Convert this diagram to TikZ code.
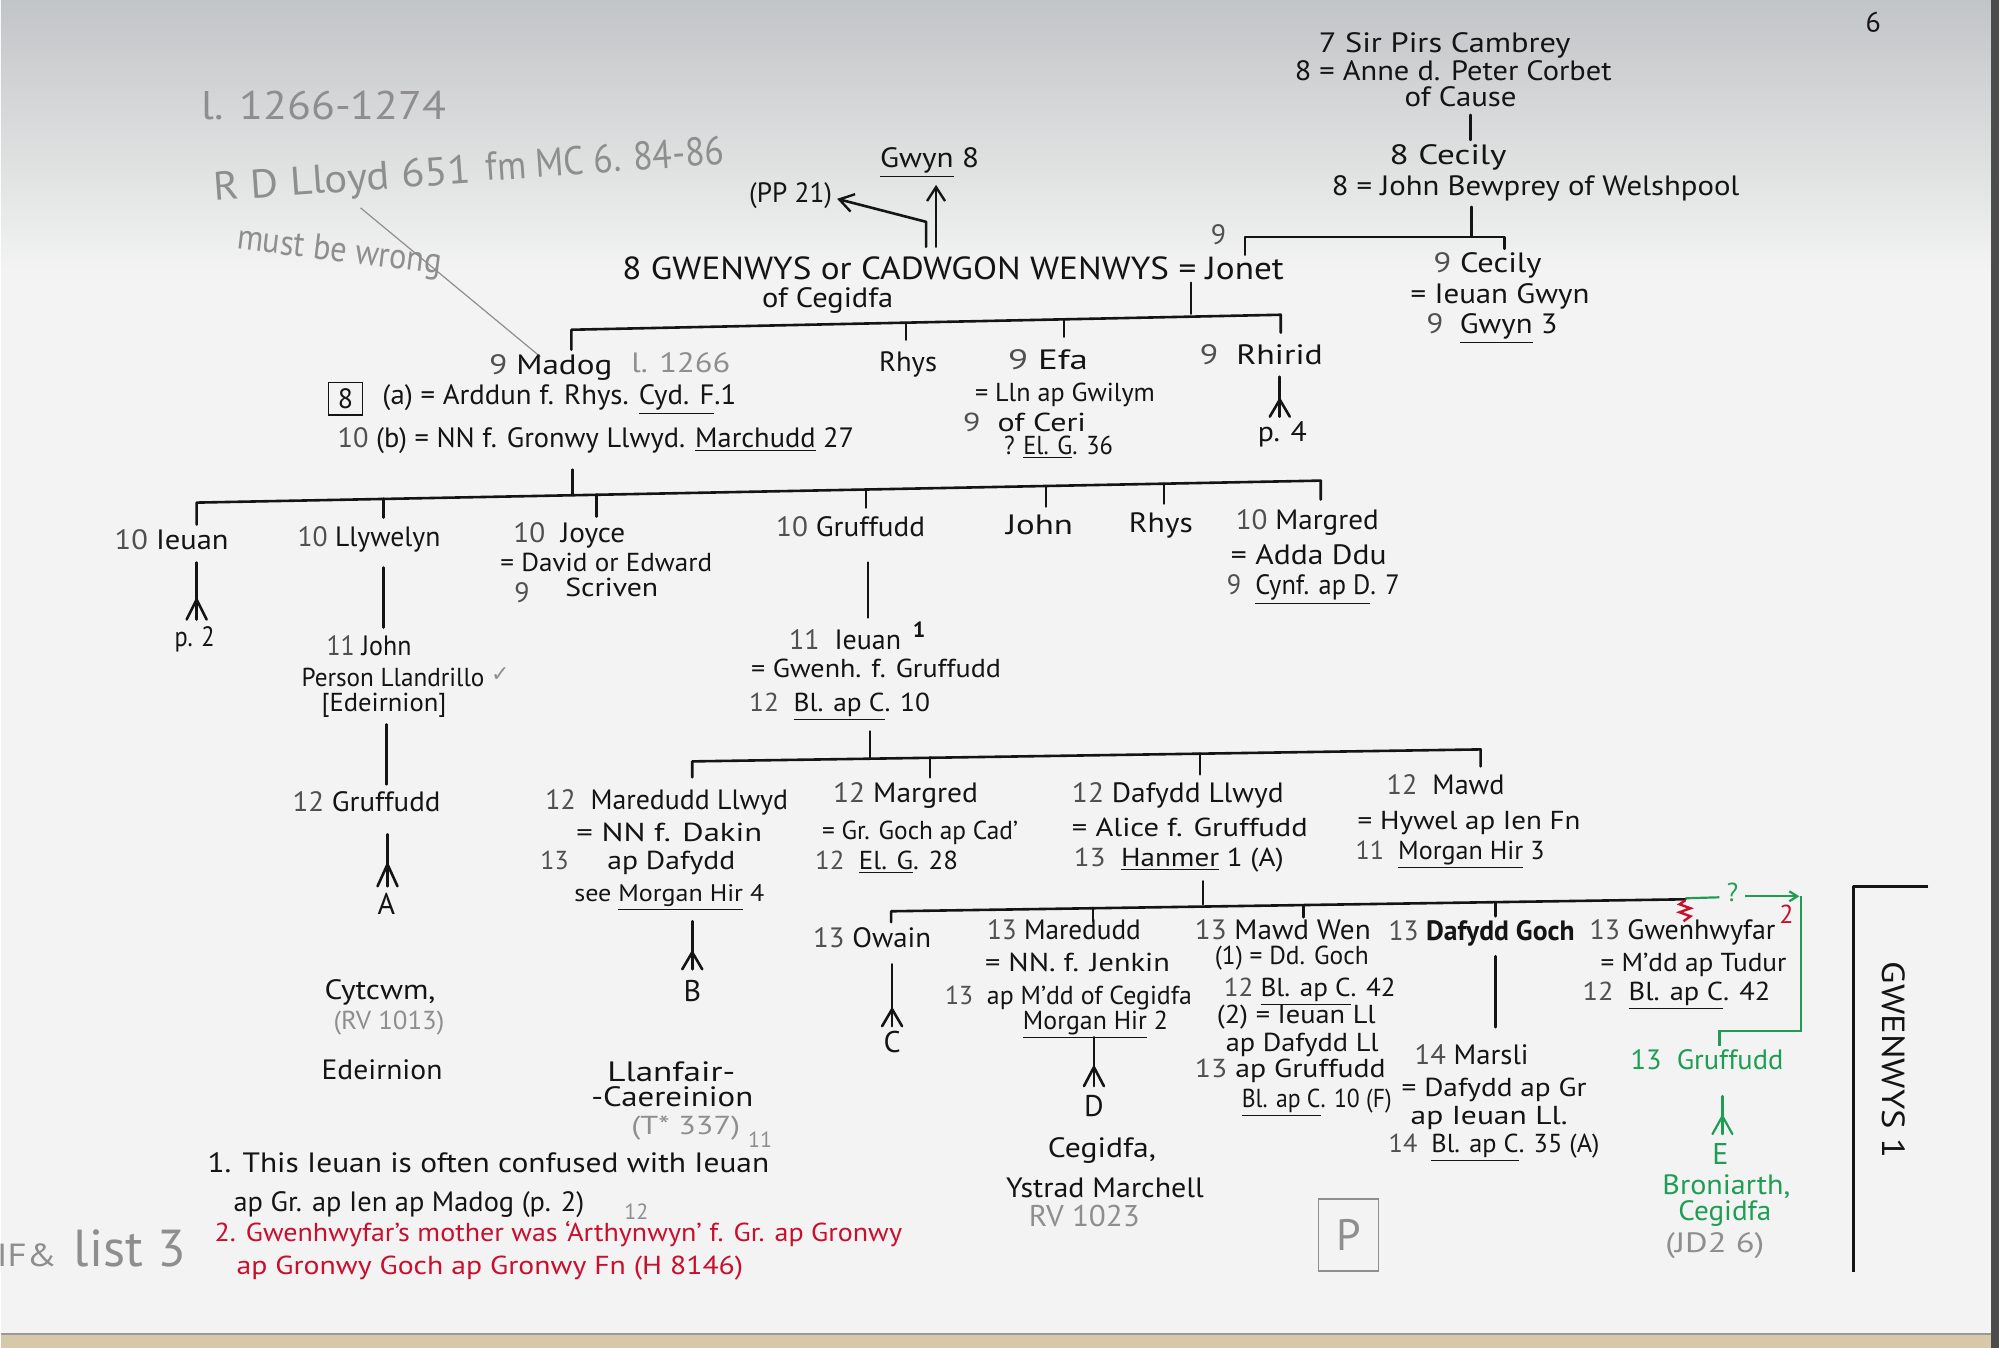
\documentclass[tikz,border=0pt]{standalone}
\usepackage{fontspec}
\setmainfont{PT Sans}
\newfontfamily\dejavu{DejaVu Sans}
\usepackage{graphicx}
\usetikzlibrary{arrows.meta}
\definecolor{ink}{HTML}{141414}
\definecolor{numgrey}{HTML}{505050}
\definecolor{pencil}{HTML}{8E8E8E}
\definecolor{grn}{HTML}{1F9D55}
\definecolor{rd}{HTML}{C8102E}
\definecolor{paper}{HTML}{F2F3F2}
\definecolor{topgrey}{HTML}{C2C5C7}
\definecolor{edgebeige}{HTML}{D6C8A8}
\tikzset{
  txt/.style={anchor=mid west,inner sep=0pt,outer sep=0pt,text=ink},
  pen/.style={text=pencil},
  gtext/.style={text=grn},
  rtext/.style={text=rd},
  tree/.style={draw=ink,line width=1.3pt,line cap=round,line join=round},
  gtree/.style={draw=grn,line width=1.1pt},
  ptree/.style={draw=pencil,line width=0.6pt},
  letter/.style={inner sep=0pt,text=ink,font=\fontsize{15}{15}\selectfont},
  barb/.style={-{Straight Barb[length=7pt,width=9pt,line width=1.2pt]}}
}
\newcommand\g[1]{\textcolor{numgrey}{#1}}
\newcommand\tx[7][]{\node[txt,font=\fontsize{#5}{#5}\selectfont,#1] (#2) at (#3,#4) {\resizebox{\dimexpr #6pt/2\relax}{\height}{#7}};}
\newcommand\desc[5]{\draw[tree,#5] (#1,#2)--(#1,#3); \draw[tree,#5] ({#1-10},#3)--(#1,#4)--({#1+10},#3);}

\begin{document}
\begin{tikzpicture}[x=0.5pt,y=-0.5pt]
% ---------- page ----------
\fill[paper] (0,0) rectangle (2000,1349);
\shade[top color=topgrey,bottom color=paper] (0,0) rectangle (2000,270);
\fill[edgebeige] (0,1335) rectangle (2000,1349);
\draw[draw=black!40,line width=0.8pt] (0,1335)--(2000,1335);
\fill[black!70] (1992,0) rectangle (2000,1349);
\useasboundingbox (0,0) rectangle (2000,1349);

% ---------- pencil notes top left ----------
\tx[pen]{note1}{201}{115}{20}{245}{l. 1266-1274}
\tx[pen,rotate=4]{note2a}{214}{196}{20}{258}{R D Lloyd 651}
\tx[pen,rotate=4]{note2b}{486}{176}{20}{239}{fm MC 6. 84-86}
\tx[pen,rotate=-7]{note3}{236}{244}{18}{206}{must be wrong}
\coordinate (n2) at (360,208);
\coordinate (n2end) at (540,357);
\draw[ptree] (n2)--(n2end);
\node[text=ink,font=\fontsize{14}{14}\selectfont,rotate=180,inner sep=0pt] (pageno) at (1874,22) {9};

% ---------- top right ----------
\tx{pirs}{1319}{48}{14}{252}{7 Sir Pirs Cambrey}
\tx{anne}{1295}{76}{14}{317}{8 = Anne d. Peter Corbet}
\tx{cause}{1405}{102}{14}{112}{of Cause}
\draw[tree] (1471,115)--(1471,140);
\tx{cecily8}{1390}{160}{14}{117}{8 Cecily}
\tx{bewprey}{1332}{191}{14}{408}{8 = John Bewprey of Welshpool}
\draw[tree] (1472,207)--(1472,237);
\draw[tree] (1245,255)--(1245,237)--(1505,237)--(1505,249);
\node[txt,text=numgrey,font=\fontsize{14}{14}\selectfont] (j9) at (1211,240) {9};
\tx{cecily9}{1434}{268}{14}{108}{\g{9} Cecily}
\tx{ieuangwyn}{1411}{299}{14}{179}{= Ieuan Gwyn}
\tx{gwyn3}{1427}{329}{14}{131}{\g{9}\ \ \underline{Gwyn} 3}

% ---------- Gwenwys ----------
\tx{gwyn8}{880}{163}{14}{99}{\underline{Gwyn} 8}
\tx{pp21}{749}{198}{14}{83}{(PP 21)}
\draw[tree,barb] (936,247)--(936,185);
\draw[tree,barb] (926,247)--(926,222)--(837,199);
\tx{gwenwys}{622}{275}{16}{662}{8 GWENWYS or CADWGON WENWYS = Jonet}
\tx{cegidfa1}{762}{303}{14}{131}{of Cegidfa}
\draw[tree] (1191,283)--(1191,314);
\draw[tree] (571,350)--(571,330)--(1281,315)--(1281,333);
\draw[tree] (906,323)--(906,340);
\draw[tree] (1064,320)--(1064,337);

% ---------- generation 9 ----------
\tx{madog}{489}{370}{14}{123}{\g{9} Madog}
\tx[pen]{l1266}{631}{368}{14}{99}{l. 1266}
\node[draw=ink,line width=0.8pt,inner sep=3pt,text=ink,font=\fontsize{14}{14}\selectfont,minimum width=17pt,minimum height=15pt] (box8) at (345,399) {8};
\tx{arddun}{382}{400}{14}{354}{(a) = Arddun f. Rhys. \underline{Cyd. F}.1}
\tx{nn}{337}{443}{14}{517}{\g{10}\ (b) = NN f. Gronwy Llwyd. \underline{Marchudd} 27}
\tx{rhys9}{879}{367}{14}{58}{Rhys}
\tx{efa}{1008}{365}{14}{80}{\g{9} Efa}
\tx{efasp}{975}{397}{13}{180}{= Lln ap Gwilym}
\tx{ceri}{963}{427}{13}{123}{\g{9}\ \ of Ceri}
\tx{elg36}{1004}{450}{13}{109}{? \underline{El. G}. 36}
\tx{rhirid}{1200}{360}{14}{123}{\g{9}\ \ Rhirid}
\desc{1280}{377}{417}{400}{}
\tx{p4}{1258}{437}{14}{49}{p. 4}

% ---------- generation 10 ----------
\draw[tree] (572,470)--(572,495);
\draw[tree] (196,525)--(196,503)--(1321,481)--(1321,500);
\draw[tree] (383,499)--(383,518);
\draw[tree] (596,495)--(596,517);
\draw[tree] (866,490)--(866,508);
\draw[tree] (1046,487)--(1046,507);
\draw[tree] (1164,484)--(1164,504);

\tx{ieuan10}{114}{545}{14}{114}{\g{10} Ieuan}
\desc{196}{563}{620}{600}{}
\tx{p2}{174}{642}{14}{40}{p. 2}
\tx{llywelyn}{297}{542}{14}{143}{\g{10}\ Llywelyn}
\draw[tree] (383,568)--(383,628);
\tx{john11}{326}{651}{14}{85}{\g{11} John}
\tx{person}{301}{682}{13}{183}{Person Llandrillo}
\node[text=pencil,font=\dejavu\fontsize{11}{11}\selectfont] (chk) at (500,675) {✓};
\tx{edeirnion1}{321}{707}{13}{125}{[Edeirnion]}
\draw[tree] (386,725)--(386,785);
\tx{joyce}{513}{538}{14}{112}{\g{10}\ \ Joyce}
\tx{david}{500}{567}{13}{212}{= David or Edward}
\node[txt,text=numgrey,font=\fontsize{14}{14}\selectfont] (s9) at (514,598) {9};
\tx{scriven}{565}{592}{13}{93}{Scriven}
\tx{gruffudd10}{776}{532}{14}{149}{\g{10} Gruffudd}
\draw[tree] (868,563)--(868,618);
\tx{john10}{1006}{530}{14}{67}{John}
\tx{rhys10}{1129}{528}{14}{64}{Rhys}
\tx{margred10}{1236}{525}{14}{143}{\g{10} Margred}
\tx{adda}{1231}{560}{14}{156}{= Adda Ddu}
\tx{cynf}{1227}{590}{14}{173}{\g{9}\ \ \underline{Cynf. ap D}. 7}

% ---------- generation 11 ----------
\tx{ieuan11}{789}{645}{14}{112}{\g{11}\ \ Ieuan}
\node[text=ink,font=\bfseries\fontsize{11}{11}\selectfont] (sup1) at (919,630) {1};
\tx{gwenh}{751}{673}{13}{250}{= Gwenh. f. Gruffudd}
\tx{blc10a}{749}{707}{13}{181}{\g{12}\ \ \underline{Bl. ap C}. 10}
\draw[tree] (870,732)--(870,758);
\draw[tree] (692,778)--(692,762)--(1481,750)--(1481,767);
\draw[tree] (930,758)--(930,778);
\draw[tree] (1200,754)--(1200,775);

% ---------- generation 12 ----------
\tx{gruffudd12}{292}{807}{14}{148}{\g{12} Gruffudd}
\desc{387}{835}{887}{865}{}
\node[letter] (A) at (386,905) {A};
\tx{cytcwm}{324}{995}{14}{111}{Cytcwm,}
\tx[pen]{rv1013}{333}{1025}{13}{111}{(RV 1013)}
\tx{edeirnion2}{321}{1075}{14}{121}{Edeirnion}

\tx{maredudd12}{545}{805}{14}{243}{\g{12}\ \ Maredudd Llwyd}
\tx{dakin}{576}{837}{13}{186}{= NN f. Dakin}
\node[txt,text=numgrey,font=\fontsize{13}{13}\selectfont] (d13) at (540,865) {13};
\tx{apdafydd}{607}{865}{13}{128}{ap Dafydd}
\tx{seemorgan}{574}{897}{12}{190}{see \underline{Morgan Hir} 4}
\desc{692}{922}{970}{953}{}
\node[letter] (B) at (692,992) {B};
\tx{llanfair}{607}{1077}{14}{128}{Llanfair-}
\tx{caereinion}{591}{1102}{14}{162}{-Caereinion}
\tx[pen]{t337}{631}{1130}{13}{109}{(T* 337)}
\node[pen,font=\fontsize{11}{11}\selectfont] (p11) at (760,1141) {11};

\tx{margred12}{833}{798}{14}{145}{\g{12} Margred}
\tx{grgoch}{822}{835}{13}{196}{= Gr. Goch ap Cad'}
\tx{elg28}{815}{865}{13}{143}{\g{12}\ \ \underline{El. G}. 28}

\tx{dafyddll}{1072}{798}{14}{212}{\g{12} Dafydd Llwyd}
\tx{alice}{1072}{832}{13}{236}{= Alice f. Gruffudd}
\tx{hanmer}{1074}{862}{13}{210}{\g{13}\ \ \underline{Hanmer} 1 (A)}
\draw[tree] (1203,882)--(1203,905);

\tx{mawd12}{1387}{790}{14}{118}{\g{12}\ \ Mawd}
\tx{hywel}{1358}{825}{13}{223}{= Hywel ap Ien Fn}
\tx{morgan3}{1356}{855}{13}{189}{\g{11}\ \ \underline{Morgan Hir} 3}

% ---------- generation 13 ----------
\draw[tree] (891,923)--(891,912)--(1686,900);
\draw[tree] (1093,909)--(1093,922);
\draw[tree] (1304,906)--(1304,918);
\draw[tree] (1496,903)--(1496,917);

\tx{owain}{813}{943}{14}{118}{\g{13} Owain}
\desc{892}{965}{1027}{1010}{}
\node[letter] (C) at (892,1043) {C};

\tx{maredudd13}{987}{935}{14}{154}{\g{13} Maredudd}
\tx{jenkin}{985}{967}{13}{185}{= NN. f. Jenkin}
\tx{mdd}{945}{1000}{13}{247}{\g{13}\ \ ap M'dd of Cegidfa}
\tx{morgan2}{1023}{1025}{13}{145}{\underline{Morgan Hir} 2}
\desc{1094}{1038}{1087}{1068}{}
\node[letter] (D) at (1094,1107) {D};
\tx{cegidfa2}{1048}{1153}{14}{108}{Cegidfa,}
\tx{ystrad}{1006}{1193}{14}{198}{Ystrad Marchell}
\tx[pen]{rv1023}{1029}{1222}{15}{111}{RV 1023}

\tx{mawdwen}{1195}{935}{14}{176}{\g{13} Mawd Wen}
\tx{ddgoch}{1215}{960}{13}{154}{(1) = Dd. Goch}
\tx{blc42a}{1224}{992}{13}{172}{\g{12} \underline{Bl. ap C}. 42}
\tx{ieuanll}{1217}{1019}{13}{159}{(2) = Ieuan Ll}
\tx{dafyddll2}{1226}{1047}{13}{153}{ap Dafydd Ll}
\tx{apgruff}{1195}{1073}{13}{191}{\g{13}\ ap Gruffudd}
\tx{blc10f}{1242}{1103}{13}{150}{\underline{Bl. ap C}. 10 (F)}

\tx{dafyddgoch}{1389}{936}{14}{186}{\g{13} \textbf{Dafydd Goch}}
\draw[tree] (1496,957)--(1496,1028);
\tx{marsli}{1415}{1060}{14}{114}{\g{14} Marsli}
\tx{dafyddapgr}{1402}{1092}{13}{185}{= Dafydd ap Gr}
\tx{ieuanll2}{1411}{1120}{13}{157}{ap Ieuan Ll.}
\tx{blc35}{1389}{1148}{13}{211}{\g{14}\ \ \underline{Bl. ap C}. 35 (A)}

\tx{gwenhwyfar}{1590}{935}{14}{186}{\g{13} Gwenhwyfar}
\node[text=rd,font=\fontsize{13}{13}\selectfont] (red2) at (1787,915) {2};
\tx{mddtudur}{1601}{967}{13}{186}{= M'dd ap Tudur}
\tx{blc42b}{1583}{996}{13}{188}{\g{12}\ \ \underline{Bl. ap C}. 42}

% red squiggle and green connection
\draw[draw=rd,line width=1.2pt] (1686,901)--(1680,905)--(1691,909)--(1680,913)--(1691,917)--(1684,922);
\draw[gtree] (1686,899)--(1720,898);
\node[text=grn,font=\fontsize{13}{13}\selectfont] (qm) at (1733,893) {?};
\draw[gtree,-{Straight Barb[length=4pt,width=5pt]}] (1746,897)--(1800,897);
\draw[gtree] (1802,897)--(1802,1032)--(1720,1032)--(1720,1047);
\tx[gtext]{gruff13}{1631}{1065}{14}{153}{13\ \ Gruffudd}
\desc{1723}{1097}{1135}{1117}{draw=grn,line width=1.1pt}
\node[letter,text=grn] (E) at (1721,1155) {E};
\tx[gtext]{broniarth}{1663}{1190}{14}{128}{Broniarth,}
\tx[gtext]{cegidfa3}{1679}{1216}{14}{93}{Cegidfa}
\tx[pen]{jd26}{1666}{1248}{14}{99}{(JD2 6)}

% GWENWYS 1 bracket
\draw[tree,line width=1.6pt,line cap=butt] (1929,887)--(1854,887)--(1854,1273);
\node[text=ink,font=\fontsize{16}{16}\selectfont,rotate=-90,inner sep=0pt] (gw1) at (1894,1061) {\resizebox{98.5pt}{\height}{GWENWYS 1}};

% ---------- footnotes ----------
\tx{fn1a}{207}{1168}{14}{562}{1. This Ieuan is often confused with Ieuan}
\tx{fn1b}{233}{1207}{14}{351}{ap Gr. ap Ien ap Madog (p. 2)}
\tx[rtext]{fn2a}{214}{1237}{13}{688}{2. Gwenhwyfar's mother was ‘Arthynwyn’ f. Gr. ap Gronwy}
\tx[rtext]{fn2b}{236}{1271}{13}{507}{ap Gronwy Goch ap Gronwy Fn (H 8146)}
\node[pen,font=\fontsize{11}{11}\selectfont] (p12) at (636,1213) {12};
\tx[pen]{if}{-4}{1262}{16}{60}{IF\&}
\tx[pen]{list3}{73}{1262}{26}{112}{list 3}
\node[draw=pencil,line width=0.7pt,text=pencil,font=\fontsize{22}{22}\selectfont,minimum width=30pt,minimum height=36pt,inner sep=0pt] (pbox) at (1349,1236) {P};
\end{tikzpicture}
\end{document}
